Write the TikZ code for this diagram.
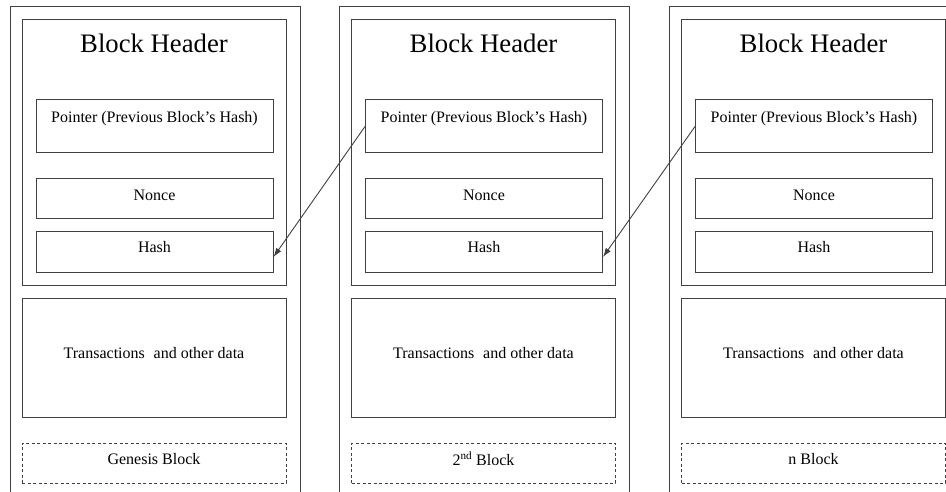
\documentclass[tikz,border=0pt]{standalone}
\usepackage{fontspec}
\setmainfont{Liberation Serif}
\usetikzlibrary{arrows.meta}
\begin{document}
\begin{tikzpicture}[x=1pt,y=-1pt,
  box/.style={draw=black!75, line width=1pt, inner sep=0pt, rectangle},
  dashbox/.style={box, dash pattern=on 3pt off 2.5pt},
  small/.style={font=\fontsize{16}{19}\selectfont, inner sep=0pt},
  big/.style={font=\fontsize{26.7}{32}\selectfont, inner sep=0pt},
  arr/.style={draw=black!75, line width=0.9pt, -{Latex[length=9pt,width=6pt]}}]
\useasboundingbox (0,0) rectangle (946,492);
\clip (0,0) rectangle (946,492);
\foreach \i/\dx/\lab in {1/0/{Genesis Block}, 2/329.5/{2\textsuperscript{nd} Block}, 3/659.5/{n Block}}{
  \begin{scope}[xshift=\dx pt]
    \node[box, minimum width=290pt, minimum height=513pt] (o\i) at (155,263.5) {};
    \node[box, minimum width=264pt, minimum height=265pt] (hd\i) at (154,152.5) {};
    \node[big] (ht\i) at (154,43) {Block Header};
    \node[box, minimum width=237pt, minimum height=53pt] (p\i) at (154.5,126.5) {};
    \node[small] (pt\i) at (154.5,119) {Pointer (Previous Block’s Hash)};
    \node[box, minimum width=237pt, minimum height=40pt] (n\i) at (154.5,199) {};
    \node[small] (nt\i) at (154.5,195) {Nonce};
    \node[box, minimum width=237pt, minimum height=40pt] (h\i) at (154.5,252) {};
    \node[small] (hs\i) at (154.5,247) {Hash};
    \node[box, minimum width=264pt, minimum height=119pt] (t\i) at (154,357.5) {};
    \node[small] (tt\i) at (154,353) {Transactions\hspace{0.3em} and other data};
    \node[dashbox, minimum width=264pt, minimum height=40pt] (l\i) at (154,463) {};
    \node[small] (lt\i) at (154,459) {\lab};
  \end{scope}
}
\draw[arr] (p2.west) -- ([yshift=-5pt]h1.east);
\draw[arr] (p3.west) -- ([yshift=-5pt]h2.east);
\end{tikzpicture}
\end{document}
